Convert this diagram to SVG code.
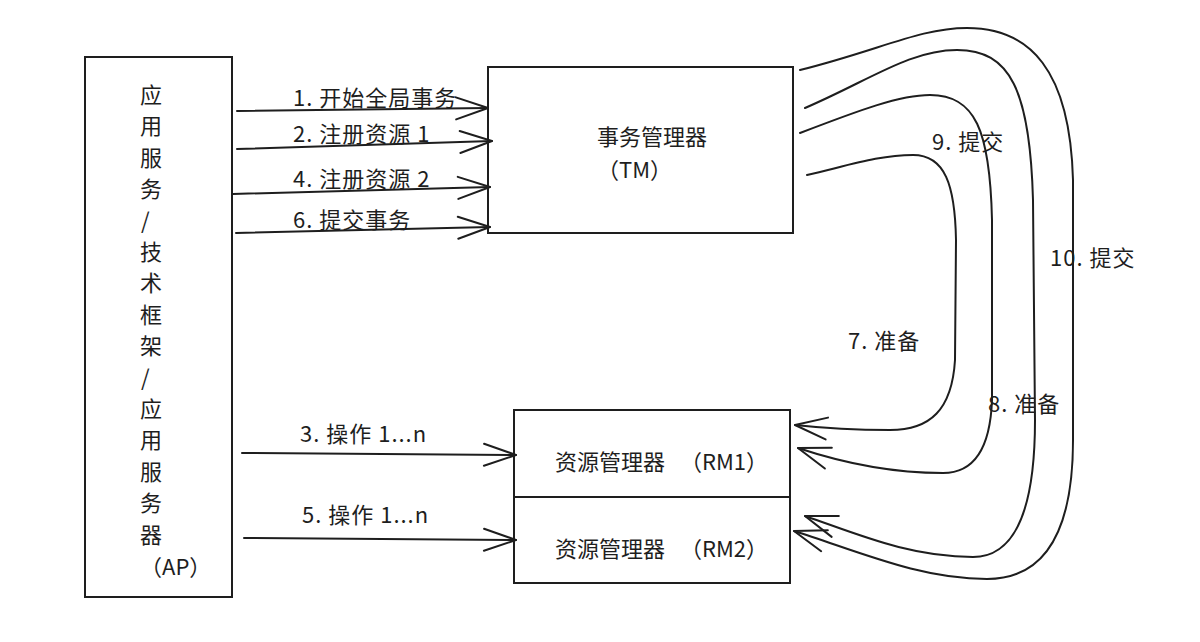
<svg xmlns="http://www.w3.org/2000/svg" width="1200" height="642" viewBox="0 0 1200 642">
<style>
.box{fill:#ffffff;stroke:#1e1e1e;stroke-width:2}
.ln{fill:none;stroke:#1e1e1e;stroke-width:2;stroke-linecap:round;stroke-linejoin:round}
.t{font-family:"Noto Sans CJK SC","Noto Sans",sans-serif;font-size:22px;fill:#1e1e1e;dominant-baseline:central}
.lb{letter-spacing:1px}
</style>
<defs>
<marker id="ah" markerUnits="userSpaceOnUse" viewBox="-36 -14 38 28" refX="0" refY="0" markerWidth="38" markerHeight="28" orient="auto" overflow="visible">
<path d="M-32,-11 L0,0 L-32,11" fill="none" stroke="#1e1e1e" stroke-width="2" stroke-linecap="round" stroke-linejoin="round"/>
</marker>
</defs>
<rect width="1200" height="642" fill="#ffffff"/>

<g id="ap">
<rect class="box" x="85" y="57" width="147" height="540"/>
<text class="t" x="140" y="93">应</text>
<text class="t" x="140" y="124.4">用</text>
<text class="t" x="140" y="155.8">服</text>
<text class="t" x="140" y="187.2">务</text>
<text class="t" x="141" y="218.6">/</text>
<text class="t" x="140" y="250">技</text>
<text class="t" x="140" y="281.4">术</text>
<text class="t" x="140" y="312.8">框</text>
<text class="t" x="140" y="344.2">架</text>
<text class="t" x="141" y="375.6">/</text>
<text class="t" x="140" y="407">应</text>
<text class="t" x="140" y="438.4">用</text>
<text class="t" x="140" y="469.8">服</text>
<text class="t" x="140" y="501.2">务</text>
<text class="t" x="140" y="532.6">器</text>
<text class="t" x="140" y="565">（AP）</text>
</g>

<g id="tm">
<rect class="box" x="488" y="67" width="305" height="166"/>
<text class="t" x="597" y="135">事务管理器</text>
<text class="t" x="597" y="168">（TM）</text>
</g>

<g id="rm1">
<rect class="box" x="514" y="410" width="276" height="87"/>
<text class="t" x="555" y="460">资源管理器<tspan x="680">（RM1）</tspan></text>
</g>

<g id="rm2">
<rect class="box" x="514" y="497" width="276" height="86"/>
<text class="t" x="555" y="547">资源管理器<tspan x="680">（RM2）</tspan></text>
</g>

<g id="connectors">
<path class="ln" marker-end="url(#ah)" d="M237,111 L488,108"/>
<path class="ln" marker-end="url(#ah)" d="M237,149 L492,141"/>
<path class="ln" marker-end="url(#ah)" d="M233,194 L490,187"/>
<path class="ln" marker-end="url(#ah)" d="M236,233 L490,227"/>
<path class="ln" marker-end="url(#ah)" d="M242,453 L516,455"/>
<path class="ln" marker-end="url(#ah)" d="M244,538 L516,540"/>
<path class="ln" marker-end="url(#ah)" d="M807,175 C850,165 880,155 913,155 C945,155 955,185 956,240 L955,360 C952,410 930,430 890,430 C850,430 822,428 795,425"/>
<path class="ln" marker-end="url(#ah)" d="M800,133 C860,110 900,95 930,95 C975,95 990,130 992,220 L992,400 C990,455 970,473 943,473 C890,473 840,462 798,448"/>
<path class="ln" marker-end="url(#ah)" d="M805,108 C870,80 910,50 957,50 C1010,50 1030,90 1033,200 L1035,420 C1035,520 1010,557 973,557 C910,557 860,535 805,516"/>
<path class="ln" marker-end="url(#ah)" d="M800,70 C880,50 920,28 967,28 C1030,28 1070,70 1073,180 L1073,440 C1073,540 1040,579 987,579 C920,579 860,552 794,531"/>
<text class="t lb" x="293" y="96">1. 开始全局事务</text>
<text class="t lb" x="293" y="132">2. 注册资源 1</text>
<text class="t lb" x="293" y="177">4. 注册资源 2</text>
<text class="t lb" x="293" y="218">6. 提交事务</text>
<text class="t lb" x="300" y="432">3. 操作 1...n</text>
<text class="t lb" x="302" y="513">5. 操作 1...n</text>
<text class="t lb" x="932" y="140">9. 提交</text>
<text class="t lb" x="1050" y="256">10. 提交</text>
<text class="t lb" x="848" y="339">7. 准备</text>
<text class="t lb" x="988" y="402">8. 准备</text>
</g>
</svg>
